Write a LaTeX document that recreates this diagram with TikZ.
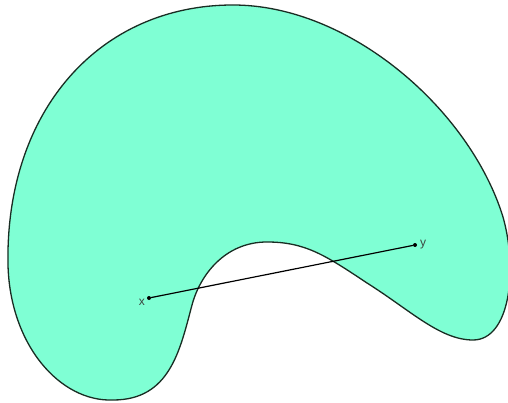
\documentclass[tikz,border=0pt]{standalone}
\usepackage{fontspec}
\setmainfont{Liberation Sans}
\definecolor{setfill}{RGB}{127,255,212}
\definecolor{edge}{RGB}{25,45,35}
\definecolor{lbl}{RGB}{60,70,65}
\begin{document}
\begin{tikzpicture}[x=1pt,y=-1pt,
  outline/.style={draw=edge,line width=1.3pt,fill=setfill},
  seg/.style={draw=black,line width=1.2pt},
  dot/.style={circle,fill=black,inner sep=0pt,minimum size=4pt},
  lab/.style={text=lbl,font=\fontsize{12}{12}\selectfont,inner sep=1pt}]
\useasboundingbox (0,0) rectangle (508,403);
\fill[white] (0,0) rectangle (508,403);
\draw[outline] (8,265)
  .. controls (5,110) and (100,5) .. (233,5)
  .. controls (350,5) and (470,110) .. (503,217)
  .. controls (518,270) and (510,340) .. (473,340)
  .. controls (440,340) and (410,310) .. (367,283)
  .. controls (325,255) and (305,242) .. (267,242)
  .. controls (225,242) and (200,275) .. (192,305)
  .. controls (180,350) and (170,400) .. (113,400)
  .. controls (60,402) and (10,345) .. (8,265) -- cycle;
\node[dot] (x) at (149,298) {};
\node[dot] (y) at (415,245) {};
\draw[seg] (x) -- (y);
\node[lab,anchor=east] (xl) at (146,302) {x};
\node[lab,anchor=west] (yl) at (419,245) {y};
\end{tikzpicture}
\end{document}
